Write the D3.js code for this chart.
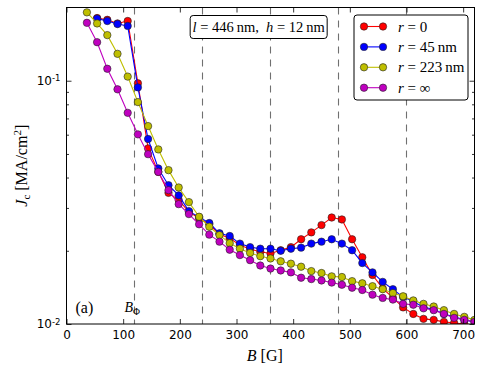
<!DOCTYPE html>
<html>
<head>
<meta charset="utf-8">
<script src="https://d3js.org/d3.v7.min.js"></script>
<style>
body { margin: 0; background: #fff; }
svg { display: block; }
.tick text { font-family: "DejaVu Sans", sans-serif; font-size: 12px; fill: #000; }
.tick line { stroke: #000; stroke-width: 0.8; }
.serif { font-family: "Liberation Serif", "DejaVu Serif", serif; fill: #000; }
</style>
</head>
<body>
<svg width="485" height="374"></svg>
<script>

// field values B [G]
var fieldValues = [36, 54, 72, 90, 108, 126, 144, 162, 180, 198, 216, 234, 252, 270, 288,
  306, 324, 342, 360, 378, 396, 414, 432, 450, 468, 486, 504, 522, 540, 558, 576,
  594, 612, 630, 648, 666, 684, 702, 720];

// Jc [MA/cm^2] for each defect radius (null = no point)
var jcR0 = [null, 0.181, 0.178, 0.172, 0.176, 0.0976, 0.0527, 0.0422, 0.0346, 0.0323, 0.0289,
  0.0272, 0.0257, 0.0234, 0.0225, 0.0211, 0.0203, 0.0198, 0.0195, 0.0201, 0.0207, 0.0223,
  0.0238, 0.0255, 0.0274, 0.0269, 0.0223, 0.0188, 0.0159, 0.0140, 0.0128, 0.0117, 0.0110,
  0.0105, 0.0104, 0.0102, 0.0101, 0.0100, 0.0099];
var jcR45 = [null, 0.180, 0.176, 0.171, 0.168, 0.0939, 0.0576, 0.0436, 0.0372, 0.0338, 0.0291,
  0.0275, 0.0260, 0.0236, 0.0230, 0.0214, 0.0207, 0.0204, 0.0204, 0.0200, 0.0204, 0.0206,
  0.0214, 0.0218, 0.0223, 0.0214, 0.0201, 0.0178, 0.0163, 0.0149, 0.0139, 0.0129, 0.0124,
  0.0117, 0.0115, 0.0110, 0.0107, 0.0104, 0.0102];
var jcR223 = [0.191, 0.172, 0.154, 0.129, 0.104, 0.0817, 0.0651, 0.0522, 0.0429, 0.0364, 0.0317,
  0.0276, 0.0251, 0.0232, 0.0215, 0.0204, 0.0196, 0.0190, 0.0186, 0.0181, 0.0177, 0.0172,
  0.0165, 0.0162, 0.0157, 0.0156, 0.0150, 0.0147, 0.0143, 0.0139, 0.0134, 0.0130, 0.0125,
  0.0121, 0.0118, 0.0114, 0.0110, 0.0107, 0.0104];
var jcRinf = [0.173, 0.144, 0.112, 0.0922, 0.0738, 0.0602, 0.0499, 0.0422, 0.0355, 0.0311, 0.0283,
  0.0257, 0.0233, 0.0218, 0.0202, 0.0192, 0.0183, 0.0174, 0.0169, 0.0166, 0.0163, 0.0155,
  0.0153, 0.0151, 0.0148, 0.0145, 0.0141, 0.0138, 0.0132, 0.0128, 0.0126, 0.0121, 0.0120,
  0.0116, 0.0114, 0.0110, 0.0106, 0.0104, 0.0102];

var seriesNames = ["r0", "r45", "r223", "rinf"];
var seriesLabels = [["0", ""], ["45", " nm"], ["223", " nm"], ["\u221e", ""]];
var seriesColors = ["#ff0000", "#0000ff", "#bfbf00", "#bf00bf"];
var seriesValues = [jcR0, jcR45, jcR223, jcRinf];

var xTicks = [0, 100, 200, 300, 400, 500, 600, 700];
var yMajor = [0.01, 0.1];
var yMinor = [0.02, 0.03, 0.04, 0.05, 0.06, 0.07, 0.08, 0.09];
var guideLines = [120, 240, 360, 480, 600];

var svg = d3.select("svg");
var margin = {left: 66.5, top: 7.5, right: 10.5, bottom: 50};
var width = 485 - margin.left - margin.right;
var height = 374 - margin.top - margin.bottom;

var x = d3.scaleLinear().domain([0, 720]).range([0, width]);
var y = d3.scaleLog().domain([0.01, 0.2]).range([height, 0]);

var g = svg.append("g").attr("transform", "translate(" + margin.left + "," + margin.top + ")");

g.append("clipPath").attr("id", "plotclip")
  .append("rect").attr("width", width).attr("height", height);

// dashed guide lines
g.selectAll("line.guide").data(guideLines).enter().append("line")
  .attr("class", "guide")
  .attr("x1", function (d) { return x(d); })
  .attr("x2", function (d) { return x(d); })
  .attr("y1", 0).attr("y2", height)
  .attr("stroke", "#707070").attr("stroke-width", 1.1)
  .attr("stroke-dasharray", "7,6");

// series
var plot = g.append("g").attr("clip-path", "url(#plotclip)");
var line = d3.line()
  .defined(function (d) { return d[1] != null; })
  .x(function (d) { return x(d[0]); })
  .y(function (d) { return y(d[1]); });

seriesValues.forEach(function (vals, i) {
  var pts = fieldValues.map(function (b, j) { return [b, vals[j]]; });
  var s = plot.append("g").attr("class", seriesNames[i]);
  s.append("path").datum(pts)
    .attr("d", line)
    .attr("fill", "none")
    .attr("stroke", seriesColors[i])
    .attr("stroke-width", 1.1);
  s.selectAll("circle").data(pts.filter(function (d) { return d[1] != null; }))
    .enter().append("circle")
    .attr("cx", function (d) { return x(d[0]); })
    .attr("cy", function (d) { return y(d[1]); })
    .attr("r", 3.7)
    .attr("fill", seriesColors[i])
    .attr("stroke", "#222")
    .attr("stroke-width", 0.6);
});

// axes, ticks pointing inward
g.append("g").attr("transform", "translate(0," + height + ")")
  .call(d3.axisBottom(x).tickValues(xTicks).tickSizeInner(-5).tickSizeOuter(0).tickPadding(6))
  .call(function (a) { a.select(".domain").remove(); });
g.append("g")
  .call(d3.axisTop(x).tickValues(xTicks).tickSizeInner(-5).tickSizeOuter(0).tickFormat(""))
  .call(function (a) { a.select(".domain").remove(); });

var yAxisL = g.append("g")
  .call(d3.axisLeft(y).tickValues(yMajor).tickSizeInner(-5).tickSizeOuter(0).tickPadding(6))
  .call(function (a) { a.select(".domain").remove(); });
yAxisL.selectAll(".tick text").text(null).each(function (d) {
  var t = d3.select(this);
  t.append("tspan").text("10");
  t.append("tspan").attr("dy", "-0.45em").attr("font-size", "8.5px")
    .text("-" + Math.round(-Math.log10(d)));
});
g.append("g")
  .call(d3.axisLeft(y).tickValues(yMinor).tickSizeInner(-2.5).tickSizeOuter(0).tickFormat(""))
  .call(function (a) { a.select(".domain").remove(); });
g.append("g").attr("transform", "translate(" + width + ",0)")
  .call(d3.axisRight(y).tickValues(yMajor).tickSizeInner(-5).tickSizeOuter(0).tickFormat(""))
  .call(function (a) { a.select(".domain").remove(); });
g.append("g").attr("transform", "translate(" + width + ",0)")
  .call(d3.axisRight(y).tickValues(yMinor).tickSizeInner(-2.5).tickSizeOuter(0).tickFormat(""))
  .call(function (a) { a.select(".domain").remove(); });

// frame
g.append("rect").attr("width", width).attr("height", height)
  .attr("fill", "none").attr("stroke", "#000").attr("stroke-width", 1);

// parameter box
var pbox = g.append("g").attr("transform", "translate(" + (x(220) - 1) + ",8)");
pbox.append("rect").attr("x", 0).attr("y", 0).attr("width", 137).attr("height", 23)
  .attr("rx", 3).attr("fill", "#fff").attr("stroke", "#000").attr("stroke-width", 1);
var ptext = pbox.append("text").attr("class", "serif").attr("x", 68.5).attr("y", 16.5)
  .attr("text-anchor", "middle").attr("font-size", "14.5px");
ptext.append("tspan").attr("font-style", "italic").text("l");
ptext.append("tspan").text("\u00a0=\u00a0446\u2009nm,\u00a0\u00a0");
ptext.append("tspan").attr("font-style", "italic").text("h");
ptext.append("tspan").text("\u00a0=\u00a012\u2009nm");

// legend
var legend = g.append("g").attr("transform", "translate(" + (354 - margin.left) + "," + (15 - margin.top) + ")");
legend.append("rect").attr("width", 114).attr("height", 85).attr("rx", 3)
  .attr("fill", "#fff").attr("stroke", "#000").attr("stroke-width", 1);
seriesNames.forEach(function (n, i) {
  var ly = 11.5 + i * 20.4;
  var row = legend.append("g");
  row.append("line").attr("x1", 10).attr("x2", 29).attr("y1", ly).attr("y2", ly)
    .attr("stroke", seriesColors[i]).attr("stroke-width", 1.1);
  [10, 29].forEach(function (cx) {
    row.append("circle").attr("cx", cx).attr("cy", ly).attr("r", 3.7)
      .attr("fill", seriesColors[i]).attr("stroke", "#222").attr("stroke-width", 0.6);
  });
  var t = row.append("text").attr("class", "serif").attr("x", 44).attr("y", ly + 5)
    .attr("font-size", "15px");
  t.append("tspan").attr("font-style", "italic").text("r");
  t.append("tspan").text("\u00a0=\u00a0" + seriesLabels[i][0] + seriesLabels[i][1].replace(" ", "\u2009"));
});

// annotations
g.append("text").attr("class", "serif").attr("x", 9).attr("y", height - 11)
  .attr("font-size", "16px").text("(a)");
var bphi = g.append("text").attr("class", "serif").attr("x", 58).attr("y", height - 12)
  .attr("font-size", "14px");
bphi.append("tspan").attr("font-style", "italic").text("B");
bphi.append("tspan").attr("dy", "3").attr("font-size", "9.5px").text("\u03a6");

// axis labels
var xl = svg.append("text").attr("class", "serif")
  .attr("x", margin.left + x(350)).attr("y", 361)
  .attr("text-anchor", "middle").attr("font-size", "16px");
xl.append("tspan").attr("font-style", "italic").text("B");
xl.append("tspan").text(" [G]");

var yl = svg.append("text").attr("class", "serif")
  .attr("transform", "translate(27," + (margin.top + height / 2) + ") rotate(-90)")
  .attr("text-anchor", "middle").attr("font-size", "16px");
yl.append("tspan").attr("font-style", "italic").text("J");
yl.append("tspan").attr("dy", "3").attr("font-size", "11px").text("c");
yl.append("tspan").attr("dy", "-3").text(" [MA/cm");
yl.append("tspan").attr("dy", "-6").attr("font-size", "11px").text("2");
yl.append("tspan").attr("dy", "6").text("]");

</script>
</body>
</html>
